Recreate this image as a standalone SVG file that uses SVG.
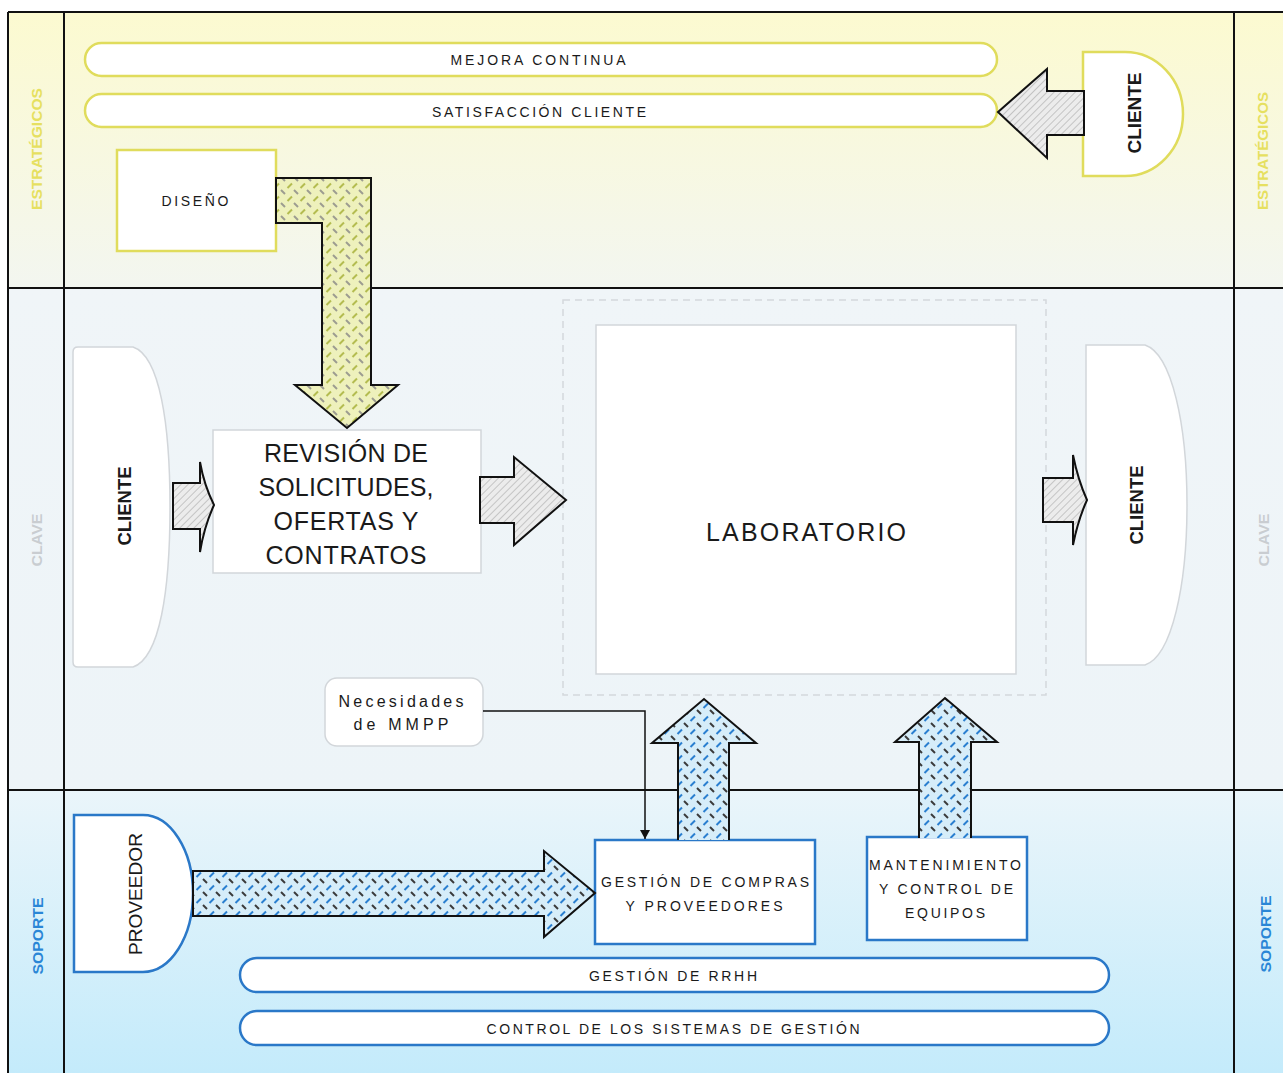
<svg xmlns="http://www.w3.org/2000/svg" width="1283" height="1073" viewBox="0 0 1283 1073">
<style>
.t{font-family:"Liberation Sans",Arial,sans-serif;fill:#1a1a1a;text-anchor:middle}
.sm{font-size:14px}
.big{font-size:25px}
.bold{font-weight:bold}
.lane{font-family:"Liberation Sans",Arial,sans-serif;font-weight:bold;font-size:14px;text-anchor:middle}
.yel{fill:#fff;stroke:#e0dc5c;stroke-width:2.5}
.blu{fill:#fff;stroke:#2a78c8;stroke-width:2.5}
.gry{fill:#fff;stroke:#d2d6da;stroke-width:1.5}
.arr{stroke:#111;stroke-width:2;stroke-linejoin:miter}
.frame{stroke:#111;stroke-width:2;fill:none}
</style>
<defs>
<linearGradient id="gTop" x1="0" y1="0" x2="0" y2="1"><stop offset="0" stop-color="#fcfad0"/><stop offset="1" stop-color="#f3f6f0"/></linearGradient>
<linearGradient id="gMid" x1="0" y1="0" x2="0" y2="1"><stop offset="0" stop-color="#f0f5f8"/><stop offset="1" stop-color="#edf4f8"/></linearGradient>
<linearGradient id="gBot" x1="0" y1="0" x2="0" y2="1"><stop offset="0" stop-color="#eaf5fa"/><stop offset="1" stop-color="#c4ebfb"/></linearGradient>
<pattern id="hatchGrey" patternUnits="userSpaceOnUse" width="5" height="5" patternTransform="rotate(45)">
<rect width="5" height="5" fill="#ececec"/><line x1="0" y1="0" x2="0" y2="5" stroke="#a9a9a9" stroke-width="1.2"/>
</pattern>
<pattern id="plateY" patternUnits="userSpaceOnUse" width="13" height="13">
<rect width="13" height="13" fill="#eef1bc"/>
<path d="M1.5,6 L6,1.5" stroke="#b4bc50" stroke-width="2"/>
<path d="M8,8 L12,12" stroke="#9c9c90" stroke-width="2"/>
</pattern>
<pattern id="plateB" patternUnits="userSpaceOnUse" width="13" height="13">
<rect width="13" height="13" fill="#d6edf9"/>
<path d="M1.5,6 L6,1.5" stroke="#2a7fd0" stroke-width="2"/>
<path d="M8,8 L12,12" stroke="#3a3a3a" stroke-width="2"/>
</pattern>
<marker id="mk" markerWidth="10" markerHeight="10" refX="9" refY="5" orient="auto" markerUnits="userSpaceOnUse" viewBox="0 0 10 10">
<path d="M0,0 L9,5 L0,10 Z" fill="#111"/>
</marker>
</defs>

<g id="lanes">
<rect x="8" y="12" width="1275" height="276" fill="url(#gTop)"/>
<rect x="8" y="288" width="1275" height="502" fill="url(#gMid)"/>
<rect x="8" y="790" width="1275" height="283" fill="url(#gBot)"/>
<path class="frame" d="M8,12 H1283 M8,288 H1283 M8,790 H1283 M8,12 V1073 M64,12 V1073 M1234,12 V1073"/>
<text class="lane" fill="#e6e060" transform="translate(42,149) rotate(-90)" textLength="122" lengthAdjust="spacingAndGlyphs">ESTRATÉGICOS</text>
<text class="lane" fill="#e6e060" transform="translate(1268,151) rotate(-90)" textLength="118" lengthAdjust="spacingAndGlyphs">ESTRATÉGICOS</text>
<text class="lane" fill="#c9cdd1" transform="translate(42,540) rotate(-90)" textLength="53" lengthAdjust="spacingAndGlyphs">CLAVE</text>
<text class="lane" fill="#c9cdd1" transform="translate(1269,540) rotate(-90)" textLength="53" lengthAdjust="spacingAndGlyphs">CLAVE</text>
<text class="lane" fill="#2a86d6" transform="translate(43,936) rotate(-90)" textLength="77" lengthAdjust="spacingAndGlyphs">SOPORTE</text>
<text class="lane" fill="#2a86d6" transform="translate(1271,934) rotate(-90)" textLength="77" lengthAdjust="spacingAndGlyphs">SOPORTE</text>
</g>

<g id="mejora-continua">
<rect class="yel" x="85" y="43" width="912" height="33" rx="16.5"/>
<text class="t sm" x="538" y="65" textLength="175" lengthAdjust="spacing">MEJORA CONTINUA</text>
</g>
<g id="satisfaccion-cliente">
<rect class="yel" x="85" y="94" width="912" height="33" rx="16.5"/>
<text class="t sm" x="539" y="117" textLength="214" lengthAdjust="spacing">SATISFACCIÓN CLIENTE</text>
</g>
<g id="cliente-estrategico">
<path class="yel" d="M1083,52 H1125 A58,62 0 0 1 1125,176 H1083 Z"/>
<text class="t bold" font-size="18" transform="translate(1141,113) rotate(-90)" textLength="81" lengthAdjust="spacingAndGlyphs">CLIENTE</text>
</g>
<g id="diseno">
<rect class="yel" x="117" y="150" width="159" height="101"/>
<text class="t sm" x="195" y="206" textLength="67" lengthAdjust="spacing">DISEÑO</text>
</g>

<g id="cliente-entrada">
<path class="gry" d="M73,352 Q73,347 78,347 H133 C160,356 170,425 170,507 C170,590 160,658 133,667 H78 Q73,667 73,662 Z"/>
<text class="t bold" font-size="18" transform="translate(131,506) rotate(-90)" textLength="79" lengthAdjust="spacingAndGlyphs">CLIENTE</text>
</g>
<g id="revision">
<rect class="gry" x="213" y="430" width="268" height="143"/>
<text class="t big" x="346" y="462" textLength="164" lengthAdjust="spacing">REVISIÓN DE</text>
<text class="t big" x="346" y="496" textLength="175" lengthAdjust="spacing">SOLICITUDES,</text>
<text class="t big" x="346" y="530" textLength="145" lengthAdjust="spacing">OFERTAS Y</text>
<text class="t big" x="346" y="564" textLength="161" lengthAdjust="spacing">CONTRATOS</text>
</g>
<g id="laboratorio">
<rect x="563" y="300" width="483" height="395" fill="none" stroke="#d4d8dc" stroke-width="1.5" stroke-dasharray="7 5"/>
<rect class="gry" x="596" y="325" width="420" height="349"/>
<text class="t big" x="806" y="541" textLength="200" lengthAdjust="spacing">LABORATORIO</text>
</g>
<g id="cliente-salida">
<path class="gry" d="M1086,345 H1145 C1172,354 1187,425 1187,505 C1187,585 1172,656 1145,665 H1086 Z"/>
<text class="t bold" font-size="18" transform="translate(1143,505) rotate(-90)" textLength="79" lengthAdjust="spacingAndGlyphs">CLIENTE</text>
</g>
<g id="necesidades">
<rect class="gry" x="325" y="678" width="158" height="68" rx="12"/>
<text class="t" font-size="16" x="401" y="707" textLength="125" lengthAdjust="spacing">Necesidades</text>
<text class="t" font-size="16" x="401" y="730" textLength="95" lengthAdjust="spacing">de MMPP</text>
</g>

<g id="proveedor">
<path class="blu" d="M74,815 H143 A50,78.5 0 0 1 143,972 H74 Z"/>
<text class="t" font-size="19" transform="translate(142,894) rotate(-90)" textLength="122" lengthAdjust="spacingAndGlyphs">PROVEEDOR</text>
</g>
<g id="gestion-compras">
<rect class="blu" x="595" y="840" width="220" height="104" stroke-width="3"/>
<text class="t sm" font-size="15" x="705" y="887" textLength="208" lengthAdjust="spacing">GESTIÓN DE COMPRAS</text>
<text class="t sm" font-size="15" x="704" y="911" textLength="157" lengthAdjust="spacing">Y PROVEEDORES</text>
</g>
<g id="mantenimiento">
<rect class="blu" x="867" y="837" width="160" height="103" stroke-width="3"/>
<text class="t sm" x="945" y="870" textLength="152" lengthAdjust="spacing">MANTENIMIENTO</text>
<text class="t sm" x="946" y="894" textLength="134" lengthAdjust="spacing">Y CONTROL DE</text>
<text class="t sm" x="945" y="918" textLength="80" lengthAdjust="spacing">EQUIPOS</text>
</g>
<g id="gestion-rrhh">
<rect class="blu" x="240" y="958" width="869" height="34" rx="17"/>
<text class="t sm" x="673" y="981" textLength="168" lengthAdjust="spacing">GESTIÓN DE RRHH</text>
</g>
<g id="control-sistemas">
<rect class="blu" x="240" y="1011" width="869" height="34" rx="17"/>
<text class="t sm" x="673" y="1034" textLength="373" lengthAdjust="spacing">CONTROL DE LOS SISTEMAS DE GESTIÓN</text>
</g>

<g id="connectors">
<path class="arr" fill="url(#hatchGrey)" d="M1084,91 H1047 V69 L998,112 L1047,158 V135 H1084 Z"/>
<path class="arr" fill="url(#plateY)" d="M276,178 H371 V385 H398 L347,428 L295,385 H322 V223 H276 Z"/>
<path class="arr" fill="url(#hatchGrey)" d="M173,483 H200 V462 Q204,485 214,505 Q204,527 200,552 V529 H173 Z"/>
<path class="arr" fill="url(#hatchGrey)" d="M480,477 H514 V457 L566,500 L514,545 V523 H480 Z"/>
<path class="arr" fill="url(#hatchGrey)" d="M1043,478 H1073 V455 Q1078,480 1087,500 Q1078,520 1073,545 V522 H1043 Z"/>
<path class="arr" fill="url(#plateB)" d="M678,840 V743 H652 L704,699 L756,743 H729 V840"/>
<path class="arr" fill="url(#plateB)" d="M919,838 V742 H895 L945,698 L997,742 H971 V838"/>
<path class="arr" fill="url(#plateB)" d="M193,871 H544 V851 L595,893 L544,937 V916 H193 Z"/>
<path d="M483,711 H645 V839" fill="none" stroke="#111" stroke-width="1.5" marker-end="url(#mk)"/>
</g>
</svg>
